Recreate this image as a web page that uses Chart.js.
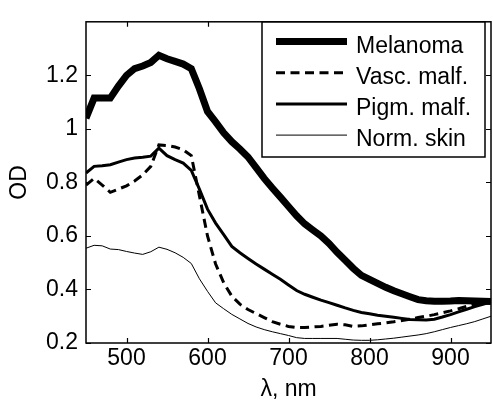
<!DOCTYPE html>
<html><head><meta charset="utf-8">
<script src="https://cdn.jsdelivr.net/npm/chart.js@4/dist/chart.umd.min.js"></script>
<style>html,body{margin:0;padding:0;background:#fff;}canvas{display:block}</style>
</head><body>
<canvas id="c" width="493" height="407"></canvas>
<script>
const wavelengths = [450,460,470,480,490,500,510,520,530,540,550,560,570,580,590,600,610,620,630,640,650,660,670,680,690,700,710,720,730,740,750,760,770,780,790,800,810,820,830,840,850,860,870,880,890,900,910,920,930,940,950];
const melanoma = [1.04,1.115,1.115,1.115,1.16,1.2,1.225,1.235,1.248,1.275,1.262,1.252,1.242,1.225,1.15,1.065,1.026,0.985,0.952,0.925,0.895,0.855,0.815,0.779,0.745,0.71,0.675,0.645,0.622,0.6,0.572,0.539,0.509,0.479,0.453,0.438,0.423,0.408,0.395,0.384,0.373,0.362,0.358,0.356,0.356,0.357,0.359,0.358,0.357,0.356,0.355];
const vascMalf = [0.79,0.815,0.79,0.763,0.775,0.787,0.805,0.828,0.86,0.94,0.938,0.932,0.922,0.9,0.75,0.6,0.495,0.425,0.375,0.345,0.325,0.31,0.295,0.28,0.27,0.262,0.258,0.258,0.26,0.262,0.266,0.27,0.268,0.262,0.264,0.268,0.272,0.275,0.279,0.284,0.289,0.295,0.3,0.306,0.313,0.32,0.328,0.337,0.344,0.35,0.353];
const pigmMalf = [0.835,0.86,0.862,0.866,0.876,0.885,0.891,0.894,0.898,0.928,0.9,0.885,0.872,0.845,0.775,0.7,0.648,0.605,0.561,0.537,0.516,0.495,0.476,0.457,0.438,0.417,0.396,0.382,0.371,0.36,0.351,0.341,0.331,0.322,0.314,0.309,0.304,0.3,0.296,0.292,0.288,0.287,0.286,0.289,0.297,0.306,0.316,0.326,0.336,0.345,0.353];
const normSkin = [0.554,0.565,0.563,0.551,0.549,0.542,0.536,0.531,0.541,0.558,0.55,0.537,0.52,0.497,0.44,0.393,0.35,0.328,0.307,0.29,0.273,0.26,0.25,0.242,0.235,0.228,0.22,0.217,0.217,0.217,0.217,0.217,0.214,0.211,0.21,0.21,0.212,0.215,0.218,0.222,0.226,0.23,0.235,0.242,0.25,0.258,0.265,0.272,0.28,0.29,0.3];
const seriesLabels = ['Melanoma','Vasc. malf.','Pigm. malf.','Norm. skin'];
const xTickValues = [500,600,700,800,900];
const yTickValues = [0.2,0.4,0.6,0.8,1,1.2];
const xTitle = 'λ, nm';
const yTitle = 'OD';

const FONT = '"Liberation Sans", Arial, sans-serif';
const FS = 23;

function pts(arr){ return wavelengths.map((w,i)=>({x:w,y:arr[i]})); }

const framePlugin = {
  id:'frame',
  afterDraw(chart){
    const {ctx, chartArea:a, scales:{x,y}} = chart;
    ctx.save();
    ctx.strokeStyle='#000';
    ctx.lineWidth=1.5;
    ctx.strokeRect(a.left, a.top, a.right-a.left, a.bottom-a.top);
    const L=5;
    ctx.lineWidth=1.2;
    ctx.beginPath();
    x.ticks.forEach(t=>{const p=Math.round(x.getPixelForValue(t.value))+0.5;
      ctx.moveTo(p,a.bottom); ctx.lineTo(p,a.bottom-L);
      ctx.moveTo(p,a.top); ctx.lineTo(p,a.top+L);});
    y.ticks.forEach(t=>{const p=Math.round(y.getPixelForValue(t.value))+0.5;
      ctx.moveTo(a.left,p); ctx.lineTo(a.left+L,p);
      ctx.moveTo(a.right,p); ctx.lineTo(a.right-L,p);});
    ctx.stroke();
    // legend
    const bx=262, by=22, bw=223, bh=135;
    ctx.fillStyle='#fff';
    ctx.fillRect(bx,by,bw,bh);
    ctx.lineWidth=1.5;
    ctx.strokeRect(bx,by,bw,bh);
    ctx.font = FS+'px '+FONT;
    ctx.textBaseline='alphabetic';
    ctx.textAlign='left';
    chart.data.datasets.forEach((ds,i)=>{
      const ly = 41.5 + i*31.2;
      ctx.beginPath();
      ctx.setLineDash(ds.borderDash||[]);
      ctx.lineWidth = ds.borderWidth;
      ctx.strokeStyle = ds.borderColor;
      ctx.moveTo(276,ly); ctx.lineTo(347,ly);
      ctx.stroke();
      ctx.setLineDash([]);
      ctx.fillStyle='#000';
      ctx.fillText(ds.label, 356, ly+11);
    });
    ctx.restore();
  }
};

new Chart(document.getElementById('c'), {
  type:'line',
  data:{datasets:[
    {label:seriesLabels[0], data:pts(melanoma), borderColor:'#000', borderWidth:7, pointRadius:0, tension:0, fill:false},
    {label:seriesLabels[1], data:pts(vascMalf), borderColor:'#000', borderWidth:3, borderDash:[9,5.5], pointRadius:0, tension:0, fill:false},
    {label:seriesLabels[2], data:pts(pigmMalf), borderColor:'#000', borderWidth:3, pointRadius:0, tension:0, fill:false},
    {label:seriesLabels[3], data:pts(normSkin), borderColor:'#000', borderWidth:1, pointRadius:0, tension:0, fill:false}
  ]},
  options:{
    responsive:false, animation:false, devicePixelRatio:1,
    layout:{padding:{top:16,right:2,left:0,bottom:0}},
    plugins:{legend:{display:false}, tooltip:{enabled:false}},
    scales:{
      x:{type:'linear', min:450, max:950,
        afterBuildTicks(s){ s.ticks = xTickValues.map(v=>({value:v})); },
        afterFit(s){ s.height = 64; },
        grid:{display:false, drawTicks:false}, border:{display:false},
        ticks:{color:'#000', padding:2, font:{family:FONT,size:FS}, callback:v=>String(v)},
        title:{display:true, text:xTitle, color:'#000', font:{family:FONT,size:FS}, padding:{top:0,bottom:4}}
      },
      y:{type:'linear', min:0.2, max:1.4,
        afterBuildTicks(s){ s.ticks = yTickValues.map(v=>({value:v})); },
        afterFit(s){ s.width = 86; },
        grid:{display:false, drawTicks:false}, border:{display:false},
        ticks:{color:'#000', padding:8, font:{family:FONT,size:FS}, callback:v=>String(Math.round(v*10)/10)},
        title:{display:true, text:yTitle, color:'#000', font:{family:FONT,size:FS}, padding:{top:6,bottom:0}}
      }
    }
  },
  plugins:[framePlugin]
});
</script>
</body></html>
